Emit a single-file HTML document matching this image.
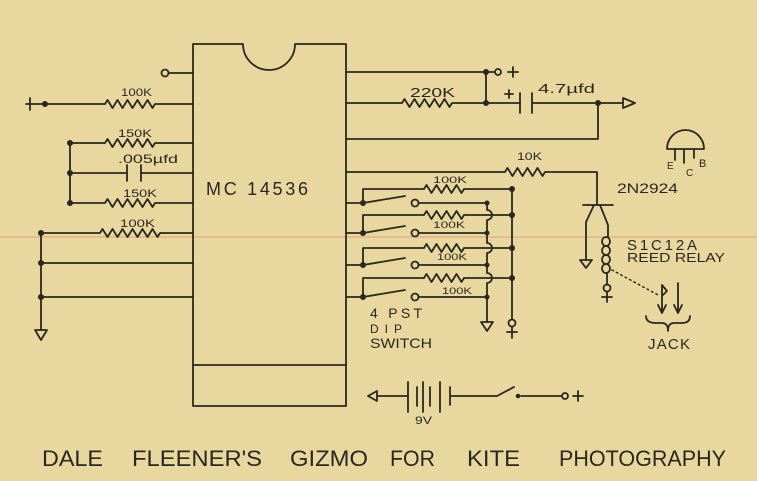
<!DOCTYPE html>
<html><head><meta charset="utf-8"><style>
html,body{margin:0;padding:0;background:#e9d7a0;}
svg{display:block}
text{font-family:"Liberation Sans",sans-serif;fill:#2a281e}
</style></head><body>
<svg width="757" height="481" viewBox="0 0 757 481" xmlns="http://www.w3.org/2000/svg">
<rect width="757" height="481" fill="#e9d7a0"/>
<line x1="0" y1="237" x2="757" y2="237" stroke="#d8956a" stroke-width="1" opacity="0.8"/>
<g fill="none" stroke="#2a281e" stroke-width="1.8" stroke-linejoin="round" stroke-linecap="round">
<!-- chip -->
<path d="M193,406 V44 H243 A26,26 0 0 0 295,44 H346 V406 Z"/>
<path d="M193,365 H346"/>
<!-- left side -->
<circle cx="165" cy="73" r="3.5"/>
<path d="M169,73 H193"/>
<path d="M26,104 H105 l2.5,-4 l5,8 l5,-8 l5,8 l5,-8 l5,8 l5,-8 l5,8 l5,-8 l5,8 l2.5,-4 H193"/>
<path d="M30,98 V110"/>
<path d="M70,143 H105 l2.5,-4 l5,8 l5,-8 l5,8 l5,-8 l5,8 l5,-8 l5,8 l5,-8 l5,8 l2.5,-4 H193"/>
<path d="M70,173 H127 M127,165 V181 M141,165 V181 M141,173 H193"/>
<path d="M70,203 H105 l2.5,-4 l5,8 l5,-8 l5,8 l5,-8 l5,8 l5,-8 l5,8 l5,-8 l5,8 l2.5,-4 H193"/>
<path d="M70,143 V203"/>
<path d="M41,233 H100 l2.5,-4 l5,8 l5,-8 l5,8 l5,-8 l5,8 l5,-8 l5,8 l5,-8 l5,8 l5,-8 l5,8 l2.5,-4 H193"/>
<path d="M41,263 H193 M41,297 H193 M41,233 V330"/>
<path d="M35,330 H47 L41,340 Z"/>
<!-- right side top -->
<path d="M346,72 H494"/>
<circle cx="498" cy="72" r="3"/>
<path d="M508,72 H518 M513,67 V77"/>
<path d="M346,103 H402 l2.5,-4 l5,8 l5,-8 l5,8 l5,-8 l5,8 l5,-8 l5,8 l5,-8 l5,8 l2.5,-4 H520"/>
<path d="M486,72 V103"/>
<path d="M520,93 V113 M532,93 V113 M532,103 H623"/>
<path d="M623,98 L635,103 L623,108 Z"/>
<path d="M505,94 H513 M509,90 V98"/>
<path d="M346,139 H598 V103"/>
<!-- 10K and transistor -->
<path d="M346,172 H505 l2.5,-4 l5,8 l5,-8 l5,8 l5,-8 l5,8 l5,-8 l5,8 l2.5,-4 H597 V205"/>
<path d="M583,205 H613"/>
<path d="M594,205 L586,222 V260"/>
<path d="M580,260 H592 L586,268 Z"/>
<path d="M600,205 L608,225 V237"/>
<ellipse cx="606" cy="241.5" rx="4" ry="4.5"/>
<ellipse cx="606" cy="250.5" rx="4" ry="4.5"/>
<ellipse cx="606" cy="259.5" rx="4" ry="4.5"/>
<ellipse cx="606" cy="268.5" rx="4" ry="4.5"/>
<path d="M607,273 V284"/>
<circle cx="607" cy="288" r="3.5"/>
<path d="M607,292 V302 M602,297 H612"/>
<path d="M612,270 L660,296" stroke-dasharray="1.5,3.5" stroke-width="1.5"/>
<!-- jack -->
<path d="M662,285 V313 M662,285 L667,291 L662,296 M658,305 L662,313 L666,305"/>
<path d="M678,283 V313 M674,305 L678,313 L682,305"/>
<path d="M646,316 Q646,323 656,323 H662 Q668,323 668,331 Q668,323 674,323 H682 Q690,323 690,316"/>
<!-- TO-92 -->
<path d="M667,149 A18.5,19 0 0 1 704,149 Z"/>
<path d="M675,149 V160 M684,149 V163 M694,149 V158"/>
<!-- DIP rows -->
<path d="M346,203 H363 M363,203 L405,196 M419,203 H487"/>
<circle cx="415" cy="203" r="3.5"/>
<path d="M363,203 V189 H424 l2.5,-4 l5,8 l5,-8 l5,8 l5,-8 l5,8 l5,-8 l5,8 l2.5,-4 H512"/>
<path d="M346,233 H363 M363,233 L405,226 M419,233 H487"/>
<circle cx="415" cy="233" r="3.5"/>
<path d="M363,233 V215 H424 l2.5,-4 l5,8 l5,-8 l5,8 l5,-8 l5,8 l5,-8 l5,8 l2.5,-4 H512"/>
<path d="M346,265 H363 M363,265 L405,258 M419,265 H487"/>
<circle cx="415" cy="265" r="3.5"/>
<path d="M363,265 V248 H424 l2.5,-4 l5,8 l5,-8 l5,8 l5,-8 l5,8 l5,-8 l5,8 l2.5,-4 H512"/>
<path d="M346,297 H363 M363,297 L405,290 M419,297 H487"/>
<circle cx="415" cy="297" r="3.5"/>
<path d="M363,297 V278 H424 l2.5,-4 l5,8 l5,-8 l5,8 l5,-8 l5,8 l5,-8 l5,8 l2.5,-4 H512"/>
<path d="M487,203 V210 A5,5 0 0 1 487,220 V243 A5,5 0 0 1 487,253 V273 A5,5 0 0 1 487,283 V322"/>
<path d="M481,322 H493 L487,331 Z"/>
<path d="M512,189 V319"/>
<circle cx="512" cy="323" r="3.5"/>
<path d="M512,327 V338 M507,332 H517"/>
<!-- battery -->
<path d="M368,396 L377,391 L377,401 Z"/>
<path d="M377,396 H408"/>
<path d="M408,382 V412 M417,387 V406 M423,382 V412 M430,387 V406 M440,382 V412 M450,387 V405 M450,396 H497"/>
<path d="M497,396 L514,387"/>
<path d="M521,396 H561"/>
<circle cx="565" cy="396" r="3"/>
<path d="M573,396 H583 M578,391 V401"/>
</g>
<g fill="#2a281e">
<circle cx="45" cy="104" r="3"/>
<circle cx="70" cy="143" r="3"/>
<circle cx="70" cy="173" r="3"/>
<circle cx="70" cy="203" r="3"/>
<circle cx="41" cy="233" r="3"/>
<circle cx="41" cy="263" r="3"/>
<circle cx="41" cy="297" r="3"/>
<circle cx="486" cy="72" r="3"/>
<circle cx="486" cy="103" r="3"/>
<circle cx="598" cy="103" r="3"/>
<circle cx="363" cy="203" r="3"/>
<circle cx="363" cy="233" r="3"/>
<circle cx="363" cy="265" r="3"/>
<circle cx="363" cy="297" r="3"/>
<circle cx="487" cy="203" r="2.5"/>
<circle cx="487" cy="233" r="2.5"/>
<circle cx="487" cy="265" r="2.5"/>
<circle cx="487" cy="297" r="2.5"/>
<circle cx="512" cy="189" r="3"/>
<circle cx="512" cy="215" r="3"/>
<circle cx="512" cy="248" r="3"/>
<circle cx="512" cy="278" r="3"/>
<circle cx="518" cy="396" r="2.3"/>
</g>
<!-- labels -->
<text x="206" y="195" font-size="18" textLength="102" lengthAdjust="spacing">MC 14536</text>
<text x="121" y="96" font-size="11" textLength="31" lengthAdjust="spacingAndGlyphs">100K</text>
<text x="118" y="137" font-size="11" textLength="34" lengthAdjust="spacingAndGlyphs">150K</text>
<text x="118" y="163" font-size="12" textLength="60" lengthAdjust="spacingAndGlyphs">.005µfd</text>
<text x="123" y="197" font-size="11" textLength="34" lengthAdjust="spacingAndGlyphs">150K</text>
<text x="120" y="227" font-size="11" textLength="35" lengthAdjust="spacingAndGlyphs">100K</text>
<text x="410" y="97" font-size="13" textLength="45" lengthAdjust="spacingAndGlyphs">220K</text>
<text x="538" y="93" font-size="13" textLength="57" lengthAdjust="spacingAndGlyphs">4.7µfd</text>
<text x="517" y="160" font-size="11" textLength="25" lengthAdjust="spacingAndGlyphs">10K</text>
<text x="433" y="183" font-size="9" textLength="34" lengthAdjust="spacingAndGlyphs">100K</text>
<text x="433" y="228" font-size="9" textLength="32" lengthAdjust="spacingAndGlyphs">100K</text>
<text x="437" y="260" font-size="9" textLength="30" lengthAdjust="spacingAndGlyphs">100K</text>
<text x="442" y="294" font-size="9" textLength="30" lengthAdjust="spacingAndGlyphs">100K</text>
<text x="370" y="318" font-size="14" textLength="52" lengthAdjust="spacing">4 PST</text>
<text x="370" y="333" font-size="12" textLength="32" lengthAdjust="spacing">DIP</text>
<text x="370" y="348" font-size="14" textLength="62" lengthAdjust="spacingAndGlyphs">SWITCH</text>
<text x="617" y="193" font-size="14" textLength="61" lengthAdjust="spacingAndGlyphs">2N2924</text>
<text x="627" y="250" font-size="15" textLength="70" lengthAdjust="spacing">S1C12A</text>
<text x="627" y="262" font-size="13" textLength="98" lengthAdjust="spacingAndGlyphs">REED RELAY</text>
<text x="648" y="349" font-size="15" textLength="42" lengthAdjust="spacing">JACK</text>
<text x="667" y="169" font-size="10">E</text>
<text x="686" y="176" font-size="10">C</text>
<text x="699" y="167" font-size="11">B</text>
<text x="415" y="424" font-size="11" textLength="17" lengthAdjust="spacingAndGlyphs">9V</text>
<text x="42" y="466" font-size="22" textLength="61" lengthAdjust="spacingAndGlyphs">DALE</text>
<text x="132" y="466" font-size="22" textLength="130" lengthAdjust="spacingAndGlyphs">FLEENER'S</text>
<text x="290" y="466" font-size="22" textLength="78" lengthAdjust="spacingAndGlyphs">GIZMO</text>
<text x="390" y="466" font-size="22" textLength="45" lengthAdjust="spacingAndGlyphs">FOR</text>
<text x="467" y="466" font-size="22" textLength="53" lengthAdjust="spacingAndGlyphs">KITE</text>
<text x="559" y="466" font-size="22" textLength="167" lengthAdjust="spacingAndGlyphs">PHOTOGRAPHY</text>
</svg>
</body></html>
